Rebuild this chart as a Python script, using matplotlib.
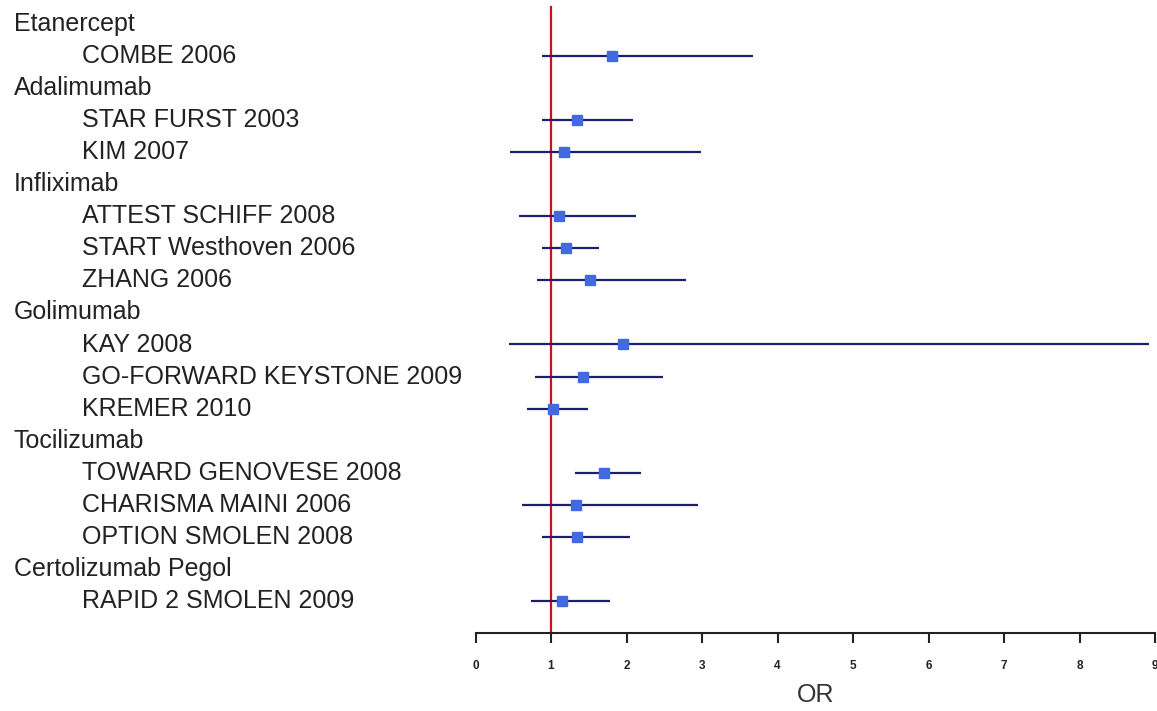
import matplotlib
matplotlib.use("Agg")
import matplotlib.pyplot as plt

plt.rcParams['font.family'] = ['Liberation Sans', 'DejaVu Sans']

# Row labels (groups and studies) in display order
labels = ["Etanercept", "COMBE 2006",
          "Adalimumab", "STAR FURST 2003", "KIM 2007",
          "Infliximab", "ATTEST SCHIFF 2008", "START Westhoven 2006", "ZHANG 2006",
          "Golimumab", "KAY 2008", "GO-FORWARD KEYSTONE 2009", "KREMER 2010",
          "Tocilizumab", "TOWARD GENOVESE 2008", "CHARISMA MAINI 2006", "OPTION SMOLEN 2008",
          "Certolizumab Pegol", "RAPID 2 SMOLEN 2009"]
is_group = [True, False,
            True, False, False,
            True, False, False, False,
            True, False, False, False,
            True, False, False, False,
            True, False]

# Study estimates (None for group header rows)
odds_ratio = [None, 1.81,
              None, 1.35, 1.17,
              None, 1.10, 1.20, 1.51,
              None, 1.96, 1.42, 1.02,
              None, 1.70, 1.33, 1.35,
              None, 1.15]
ci_low = [None, 0.88,
          None, 0.88, 0.46,
          None, 0.57, 0.88, 0.81,
          None, 0.44, 0.79, 0.68,
          None, 1.32, 0.61, 0.88,
          None, 0.74]
ci_high = [None, 3.67,
           None, 2.08, 2.99,
           None, 2.12, 1.64, 2.79,
           None, 8.92, 2.48, 1.49,
           None, 2.19, 2.95, 2.04,
           None, 1.78]

x_ticks = [0, 1, 2, 3, 4, 5, 6, 7, 8, 9]
x_label = "OR"

W, H = 1157, 711
fig = plt.figure(figsize=(W / 100, H / 100), dpi=100)
ax_left_px, ax_right_px = 475.5, 1155.0
ax_bottom_px = 633.3
ax = fig.add_axes([ax_left_px / W, (H - ax_bottom_px) / H,
                   (ax_right_px - ax_left_px) / W, ax_bottom_px / H])

row_gap = 32.02
first_row_px = 24.3
ax.set_xlim(0, 9)
ax.set_ylim((ax_bottom_px - first_row_px) / row_gap, -first_row_px / row_gap)

for s in ["top", "right", "left"]:
    ax.spines[s].set_visible(False)
ax.spines["bottom"].set_linewidth(1.5)
ax.spines["bottom"].set_color("#222222")
ax.set_yticks([])
ax.set_xticks(x_ticks)
ax.set_xticklabels([str(t) for t in x_ticks], fontsize=8.5, fontweight='bold', color="#222222")
ax.tick_params(axis='x', direction='out', length=7, width=1.5, color="#222222", pad=12)
ax.set_xlabel(x_label, fontsize=18, color="#333333", labelpad=8)

# reference line at OR = 1
ax.axvline(1, ymin=0, ymax=(ax_bottom_px - 7) / ax_bottom_px, color="#cc1111", lw=1.6, zorder=1)

for i, (lab, grp) in enumerate(zip(labels, is_group)):
    xpos = 14 if grp else 82
    y_fig = 1 - (first_row_px + row_gap * i) / H
    fig.text(xpos / W, y_fig, lab, fontsize=18, color="#222222", va='center', ha='left')
    if odds_ratio[i] is not None:
        ax.plot([ci_low[i], ci_high[i]], [i, i], color="#1e1e6e", lw=1.6, zorder=2,
                clip_on=False, solid_capstyle='butt')
        ax.plot([odds_ratio[i]], [i], marker='s', ms=7.5, color="#4169e1",
                markeredgecolor="#4169e1", zorder=3, clip_on=False)

fig.savefig("out.png", dpi=100)
